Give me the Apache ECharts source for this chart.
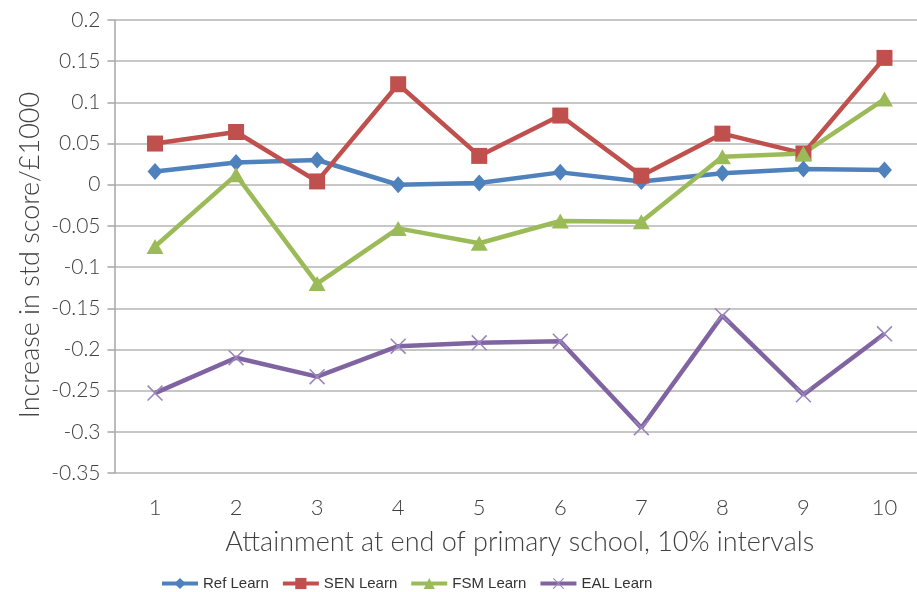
<!DOCTYPE html>
<html>
<head>
<meta charset="utf-8">
<script src="https://cdn.jsdelivr.net/npm/echarts@6/dist/echarts.min.js"></script>
<style>
  html, body { margin: 0; padding: 0; background: #fff; overflow: hidden; }
  /* the plot runs a few pixels past the right edge of the window */
  #chart { width: 925px; height: 592px; }
</style>
</head>
<body>
<div id="chart"></div>
<script>
// Attainment deciles (end of primary school)
const categories = ['1', '2', '3', '4', '5', '6', '7', '8', '9', '10'];

// Increase in standardised score per £1000, by pupil group
const refLearn = [0.016, 0.027, 0.030, 0.000, 0.002, 0.015, 0.004, 0.014, 0.019, 0.018];
const senLearn = [0.050, 0.064, 0.004, 0.122, 0.035, 0.084, 0.011, 0.062, 0.038, 0.154];
const fsmLearn = [-0.075, 0.012, -0.120, -0.053, -0.071, -0.044, -0.045, 0.034, 0.038, 0.104];
const ealLearn = [-0.253, -0.210, -0.233, -0.196, -0.192, -0.190, -0.295, -0.159, -0.255, -0.181];

const seriesNames = ['Ref Learn', 'SEN Learn', 'FSM Learn', 'EAL Learn'];

const textFont = 'Lato';
const textColor = '#404040';

// Thin filled cross used as the EAL marker
const crossPath = 'path://M0,0.7 L0.7,0 L10,9.3 L9.3,10 Z M9.3,0 L10,0.7 L0.7,10 L0,9.3 Z';

function lineSeries(name, data, color, symbol, symbolSize, markerColor) {
  return {
    name: name,
    type: 'line',
    data: data,
    symbol: symbol,
    symbolSize: symbolSize,
    showSymbol: true,
    lineStyle: { color: color, width: 4.5 },
    itemStyle: { color: markerColor || color },
    emphasis: { disabled: true },
    animation: false
  };
}

const chart = echarts.init(document.getElementById('chart'), null, { renderer: 'canvas' });

chart.setOption({
  backgroundColor: '#ffffff',
  animation: false,
  grid: { left: 114.5, right: 0, top: 20, bottom: 119, containLabel: false },
  legend: {
    top: 571,
    left: 155,
    itemWidth: 36,
    itemHeight: 14,
    itemGap: 12,
    lineStyle: { width: 4 },
    textStyle: { fontFamily: 'Liberation Sans', fontSize: 15, color: '#333' },
    data: seriesNames
  },
  graphic: [{
    type: 'text',
    rotation: Math.PI / 2,
    x: 30,
    y: 255,
    style: {
      text: 'Increase in std score/£1000',
      fontFamily: textFont, fontWeight: 300, fontSize: 27, fill: textColor,
      align: 'center', verticalAlign: 'middle'
    }
  }],
  xAxis: {
    type: 'category',
    data: categories,
    boundaryGap: true,
    axisLine: { show: false },
    axisTick: { show: false },
    axisLabel: {
      fontFamily: textFont, fontWeight: 300, fontSize: 22, color: textColor, margin: 24
    },
    name: 'Attainment at end of primary school, 10% intervals',
    nameLocation: 'middle',
    nameGap: 56,
    nameTextStyle: { fontFamily: textFont, fontWeight: 300, fontSize: 27, color: textColor }
  },
  yAxis: {
    type: 'value',
    min: -0.35,
    max: 0.2,
    interval: 0.05,
    axisLine: { show: true, lineStyle: { color: '#a6a6a6', width: 1.5 } },
    axisTick: { show: true, length: 7, lineStyle: { color: '#a6a6a6', width: 1.5 } },
    splitLine: { show: true, lineStyle: { color: '#b4b4b4', width: 1.5 } },
    axisLabel: {
      fontFamily: textFont, fontWeight: 300, fontSize: 21, color: textColor, margin: 14,
      formatter: v => String(+v.toFixed(2))
    }
  },
  series: [
    lineSeries(seriesNames[0], refLearn, '#4F81BD', 'diamond', [15, 17]),
    lineSeries(seriesNames[1], senLearn, '#C0504D', 'rect', 16),
    lineSeries(seriesNames[2], fsmLearn, '#9BBB59', 'triangle', [17, 15]),
    lineSeries(seriesNames[3], ealLearn, '#8064A2', crossPath, 16, '#9a86bd')
  ]
});
</script>
</body>
</html>
